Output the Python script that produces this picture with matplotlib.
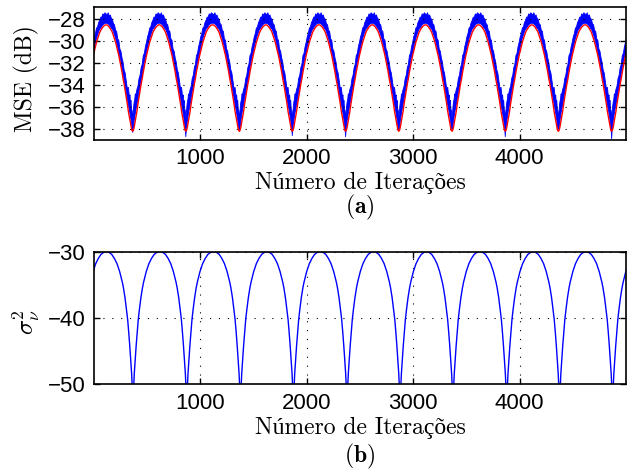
import matplotlib
matplotlib.use('Agg')
import matplotlib.pyplot as plt
import numpy as np

# iterations where each arch bottoms out;
# first/last entries are the arches cut by the axes edges
mse_dips = [-137, 363, 863, 1366, 1864, 2365, 2865, 3365, 3866, 4365, 4866, 5366]
sig_dips = [-134, 366, 871, 1376, 1874, 2378, 2877, 3374, 3879, 4376, 4874, 5374]

# arch profile of the MSE curves, by distance (iterations) from a dip
prof_off = [0, 5, 10, 15, 20, 25, 30, 40, 50, 60, 70, 80, 90, 100, 110, 120,
            130, 140, 150, 160, 170, 180, 190, 200, 210, 220, 230, 240, 250]
red_prof = [-38.2, -38.15, -38.0, -37.8, -37.5, -37.2, -36.95, -36.4, -35.7,
            -35.1, -34.5, -33.9, -33.4, -32.8, -32.3, -31.8, -31.3, -30.9,
            -30.5, -30.1, -29.8, -29.5, -29.2, -29.0, -28.85, -28.7, -28.6,
            -28.52, -28.5]
# noisy blue curve: upper edge on the rising / falling side, and lower edge
blue_hi_up = [-37.0, -36.6, -35.9, -35.5, -35.3, -34.8, -34.9, -34.4, -34.1,
              -33.4, -33.1, -32.4, -32.1, -31.3, -31.1, -30.5, -30.1, -29.6,
              -29.3, -28.8, -28.7, -28.3, -28.1, -27.8, -27.8, -27.5, -27.6,
              -27.4, -27.5]
blue_hi_dn = [-37.0, -36.3, -36.2, -35.4, -35.6, -34.9, -35.1, -34.2, -34.3,
              -33.6, -32.9, -32.6, -31.9, -31.5, -30.9, -30.7, -29.9, -29.8,
              -29.1, -29.0, -28.5, -28.4, -28.0, -27.9, -27.6, -27.7, -27.4,
              -27.6, -27.5]
blue_lo = [-38.4, -38.0, -37.6, -37.2, -36.9, -36.6, -36.3, -35.8, -35.2,
           -34.6, -34.1, -33.5, -33.0, -32.4, -31.9, -31.4, -31.0, -30.55,
           -30.15, -29.75, -29.45, -29.15, -28.9, -28.8, -28.65, -28.5, -28.42,
           -28.37, -28.35]
# deepest blue spike at each dip
blue_floor = [-38.4, -38.3, -38.7, -38.2, -38.6, -38.7, -38.1, -37.9, -38.7,
              -38.0, -38.9, -38.4]

# sigma_v^2 arch profile
sig_off = [0, 12, 20, 30, 40, 50, 60, 75, 90, 100, 125, 150, 175, 200, 225, 250]
sig_prof = [-53.0, -48.5, -46.6, -44.2, -42.1, -40.2, -38.8, -36.9, -35.4,
            -34.6, -33.0, -31.8, -31.0, -30.4, -30.1, -30.0]

xticks = [1000, 2000, 3000, 4000]


def arches(dips, off, vals, floor=None, vals_left=None):
    # vals: right (rising) side, vals_left: left (falling) side
    if vals_left is None:
        vals_left = vals
    xs, ys = [], []
    for i, m in enumerate(dips):
        vr = list(vals)
        vl = list(vals_left)
        if floor is not None:
            vr[0] = floor[i]
            vl[0] = floor[i]
        for d, y in zip(off[::-1], vl[::-1]):
            xs.append(m - d); ys.append(y)
        for d, y in zip(off[1:], vr[1:]):
            xs.append(m + d); ys.append(y)
    xs = np.array(xs); ys = np.array(ys)
    idx = np.argsort(xs, kind='stable')
    return xs[idx], ys[idx]


x_red, y_red = arches(mse_dips, prof_off, red_prof)
x_b, y_hi = arches(mse_dips, prof_off, blue_hi_up, vals_left=blue_hi_dn)
_, y_lo = arches(mse_dips, prof_off, blue_lo, blue_floor)
x_sig, y_sig = arches(sig_dips, sig_off, sig_prof)

tick_font = 'Liberation Sans'
lab_font = ['cmr10', 'Liberation Serif']
plt.rcParams['mathtext.fontset'] = 'cm'
plt.rcParams['axes.unicode_minus'] = True

fig = plt.figure(figsize=(6.37, 4.73), dpi=100)
ax1 = fig.add_axes([0.1476, 0.704, 0.835, 0.2806])
ax2 = fig.add_axes([0.1476, 0.1875, 0.835, 0.2804])

# top: MSE
ax1.fill_between(x_b, y_lo, y_hi, color='#0000ff', lw=0.6, edgecolor='#0000ff')
ax1.plot(x_red, y_red, color='#ff0000', lw=1.0)
ax1.set_xlim(0, 5000)
ax1.set_ylim(-39, -26.9)
ax1.set_yticks([-28, -30, -32, -34, -36, -38])

# bottom: sigma_v^2
ax2.plot(x_sig, y_sig, color='#0000ff', lw=1.0)
ax2.set_xlim(0, 5000)
ax2.set_ylim(-50, -30)
ax2.set_yticks([-30, -40, -50])

for ax in (ax1, ax2):
    ax.set_xticks(xticks)
    ax.grid(True, color='black', linestyle=(0, (1, 7)), lw=0.8)
    ax.tick_params(direction='in', length=4, width=1, top=True, right=True,
                   labelsize=16, pad=6)
    for lab in ax.get_xticklabels() + ax.get_yticklabels():
        lab.set_fontfamily(tick_font)
    for s in ax.spines.values():
        s.set_linewidth(1.2)

fig.text(0.041, 0.833, 'MSE (dB)', rotation=90, ha='center', va='center',
         fontsize=17, family=lab_font)
fig.text(0.042, 0.319, r'$\sigma_\nu^2$', rotation=90, ha='center',
         va='center', fontsize=18)
fig.text(0.565, 0.613, 'Número de Iterações', ha='center', va='center',
         fontsize=17, family=lab_font)
fig.text(0.565, 0.095, 'Número de Iterações', ha='center', va='center',
         fontsize=17, family=lab_font)
fig.text(0.565, 0.562, r'$(\mathbf{a})$', ha='center', va='center', fontsize=17)
fig.text(0.565, 0.034, r'$(\mathbf{b})$', ha='center', va='center', fontsize=17)

fig.savefig('out.png', dpi=100)
